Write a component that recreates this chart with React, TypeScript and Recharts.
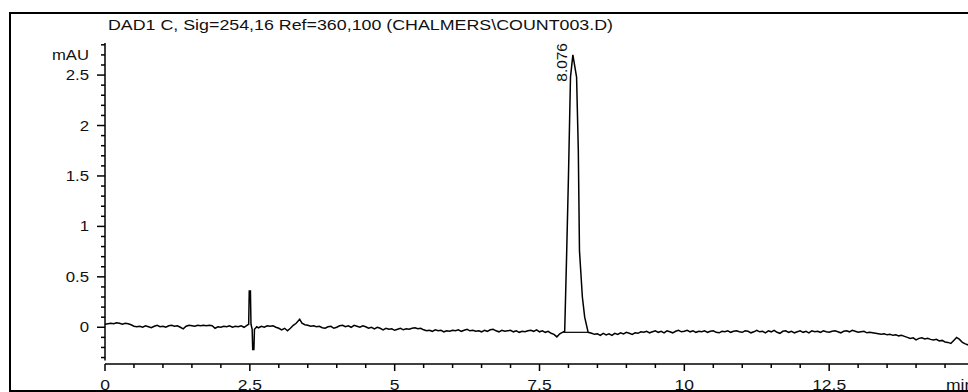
import React from 'react';
import { LineChart, Line, XAxis, YAxis, ReferenceLine, ReferenceDot } from 'recharts';

// DAD1 C chromatogram, time (min) vs absorbance (mAU), stored as [t, mAU] pairs
const baselineEarly: [number, number][] = [
  [0.0, 0.03], [0.05, 0.035], [0.1, 0.04], [0.15, 0.035], [0.2, 0.045], [0.25, 0.04],
  [0.3, 0.03], [0.35, 0.04], [0.4, 0.035], [0.45, 0.025], [0.5, 0.01], [0.55, 0.005],
  [0.6, 0.01], [0.65, 0.0], [0.7, 0.015], [0.75, 0.005], [0.8, -0.005], [0.85, 0.01],
  [0.9, 0.02], [0.95, 0.005], [1.0, 0.01], [1.05, 0.0], [1.1, 0.015], [1.15, 0.02],
  [1.2, 0.01], [1.25, 0.015], [1.3, 0.0], [1.35, -0.015], [1.4, 0.01], [1.45, 0.02],
  [1.5, 0.015], [1.55, 0.01], [1.6, 0.02], [1.65, 0.015], [1.7, 0.02], [1.75, 0.015],
  [1.8, 0.02], [1.85, 0.015], [1.9, -0.01], [1.95, 0.005], [2.0, 0.0], [2.05, 0.01],
  [2.1, 0.005], [2.15, 0.015], [2.2, 0.0], [2.25, 0.01], [2.3, 0.005], [2.35, 0.015],
  [2.4, 0.0], [2.45, 0.02],
];

const injectionSpike: [number, number][] = [
  [2.48, 0.03], [2.49, 0.36], [2.51, 0.36], [2.52, 0.03], [2.54, -0.02], [2.55, -0.22],
  [2.57, -0.22], [2.58, -0.02], [2.62, 0.005], [2.65, -0.005], [2.7, 0.01], [2.75, 0.0],
  [2.8, 0.015], [2.85, 0.01], [2.9, 0.015], [2.95, 0.0], [3.0, -0.01], [3.05, -0.025],
  [3.1, -0.01], [3.15, -0.035], [3.2, -0.01], [3.25, 0.02], [3.3, 0.04], [3.36, 0.08],
  [3.4, 0.04], [3.45, 0.025], [3.5, 0.02], [3.55, 0.01], [3.6, 0.015], [3.65, 0.005],
  [3.7, 0.01], [3.75, -0.005], [3.8, -0.01],
];

const baselineMid: [number, number][] = [
  [3.85, 0.005], [3.9, 0.01], [3.95, -0.01], [4.0, 0.0], [4.05, 0.015], [4.1, 0.02],
  [4.15, 0.005], [4.2, 0.015], [4.25, 0.0], [4.3, 0.02], [4.35, 0.01], [4.4, 0.0],
  [4.45, 0.015], [4.5, 0.005], [4.55, -0.01], [4.6, 0.0], [4.65, -0.015], [4.7, 0.0],
  [4.75, -0.01], [4.8, -0.025], [4.85, -0.01], [4.9, -0.02], [4.95, -0.015], [5.0, -0.03],
  [5.05, -0.02], [5.1, -0.01], [5.15, -0.025], [5.2, -0.015], [5.25, -0.02], [5.3, -0.01],
  [5.35, -0.005], [5.4, -0.015], [5.45, -0.01], [5.5, -0.025], [5.55, -0.035], [5.6, -0.03],
  [5.65, -0.04], [5.7, -0.025], [5.75, -0.035], [5.8, -0.03], [5.85, -0.045], [5.9, -0.035],
  [5.95, -0.04], [6.0, -0.03], [6.05, -0.035], [6.1, -0.025], [6.15, -0.04], [6.2, -0.03],
  [6.25, -0.02], [6.3, -0.035], [6.35, -0.03], [6.4, -0.04], [6.45, -0.035], [6.5, -0.045],
  [6.55, -0.03], [6.6, -0.04], [6.65, -0.025], [6.7, -0.02], [6.75, -0.035], [6.8, -0.045],
  [6.85, -0.03], [6.9, -0.04], [6.95, -0.035], [7.0, -0.03], [7.05, -0.045], [7.1, -0.035],
  [7.15, -0.05], [7.2, -0.04], [7.25, -0.045], [7.3, -0.035], [7.35, -0.03], [7.4, -0.04],
  [7.45, -0.025], [7.5, -0.045], [7.55, -0.035], [7.6, -0.05], [7.65, -0.04], [7.7, -0.06],
  [7.75, -0.07], [7.8, -0.095], [7.85, -0.065], [7.91, -0.045],
];

const peak8076: [number, number][] = [
  [7.935, -0.04], [7.95, 0.3], [7.97, 0.76], [8.0, 1.5], [8.035, 2.48], [8.076, 2.7],
  [8.14, 2.48], [8.17, 1.75], [8.19, 0.76], [8.24, 0.3], [8.28, 0.1], [8.34, -0.05],
];

const baselineLate: [number, number][] = [
  [8.4, -0.06], [8.45, -0.07], [8.5, -0.065], [8.55, -0.08], [8.6, -0.06], [8.65, -0.075],
  [8.7, -0.065], [8.75, -0.08], [8.8, -0.06], [8.85, -0.07], [8.9, -0.055], [8.95, -0.065],
  [9.0, -0.05], [9.05, -0.06], [9.1, -0.07], [9.15, -0.055], [9.2, -0.06], [9.25, -0.045],
  [9.3, -0.05], [9.35, -0.04], [9.4, -0.055], [9.45, -0.045], [9.5, -0.035], [9.55, -0.05],
  [9.6, -0.04], [9.65, -0.055], [9.7, -0.035], [9.75, -0.045], [9.8, -0.055], [9.85, -0.04],
  [9.9, -0.03], [9.95, -0.045], [10.0, -0.04], [10.05, -0.03], [10.1, -0.045], [10.15, -0.035],
  [10.2, -0.05], [10.25, -0.04], [10.3, -0.045], [10.35, -0.035], [10.4, -0.05], [10.45, -0.04],
  [10.5, -0.035], [10.55, -0.05], [10.6, -0.055], [10.65, -0.04], [10.7, -0.045], [10.75, -0.035],
  [10.8, -0.05], [10.85, -0.04], [10.9, -0.035], [10.95, -0.045], [11.0, -0.05], [11.05, -0.035],
  [11.1, -0.04], [11.15, -0.055], [11.2, -0.045], [11.25, -0.03], [11.3, -0.045], [11.35, -0.04],
  [11.4, -0.055], [11.45, -0.035], [11.5, -0.045], [11.55, -0.03], [11.6, -0.05], [11.65, -0.06],
  [11.7, -0.04], [11.75, -0.035], [11.8, -0.05], [11.85, -0.04], [11.9, -0.055], [11.95, -0.045],
  [12.0, -0.035], [12.05, -0.05], [12.1, -0.04], [12.15, -0.055], [12.2, -0.035], [12.25, -0.045],
  [12.3, -0.04], [12.35, -0.05], [12.4, -0.035], [12.45, -0.045], [12.5, -0.05], [12.55, -0.04],
  [12.6, -0.035], [12.65, -0.045], [12.7, -0.055], [12.75, -0.04], [12.8, -0.035], [12.85, -0.045],
  [12.9, -0.03], [12.95, -0.04], [13.0, -0.05], [13.05, -0.045], [13.1, -0.04], [13.15, -0.055],
  [13.2, -0.05], [13.25, -0.055], [13.3, -0.06], [13.35, -0.065], [13.4, -0.07], [13.45, -0.065],
  [13.5, -0.075], [13.55, -0.07], [13.6, -0.08], [13.65, -0.075], [13.7, -0.085], [13.75, -0.08],
  [13.8, -0.09], [13.85, -0.1], [13.9, -0.11], [13.95, -0.105], [14.0, -0.125], [14.05, -0.11],
  [14.1, -0.105], [14.15, -0.115], [14.2, -0.11], [14.25, -0.12], [14.3, -0.125], [14.35, -0.12],
  [14.4, -0.135], [14.45, -0.13], [14.5, -0.145], [14.55, -0.15], [14.6, -0.16], [14.65, -0.13],
  [14.7, -0.1], [14.75, -0.12], [14.8, -0.15], [14.85, -0.165], [14.9, -0.175], [14.95, -0.18],
  [15.0, -0.18],
];

// integration baseline drawn under the peak
const peakBaseline: [number, number][] = [[7.91, -0.05], [8.34, -0.05]];

const peakTime = 8.076;
const peakHeight = 2.7;

const xTicks = [
  0, 0.5, 1, 1.5, 2, 2.5, 3, 3.5, 4, 4.5, 5, 5.5, 6, 6.5, 7, 7.5, 8, 8.5, 9, 9.5,
  10, 10.5, 11, 11.5, 12, 12.5, 13, 13.5, 14, 14.5, 15,
];
const xMajorTicks = [0, 2.5, 5, 7.5, 10, 12.5, 15];
const xMajorLabels = ['0', '2.5', '5', '7.5', '10', '12.5', 'min'];

const yTicks = [
  -0.3, -0.2, -0.1, 0, 0.1, 0.2, 0.3, 0.4, 0.5, 0.6, 0.7, 0.8, 0.9, 1, 1.1, 1.2, 1.3,
  1.4, 1.5, 1.6, 1.7, 1.8, 1.9, 2, 2.1, 2.2, 2.3, 2.4, 2.5, 2.6, 2.7, 2.8,
];
const yMajorTicks = [0, 0.5, 1, 1.5, 2, 2.5];
const yMajorLabels = ['0', '0.5', '1', '1.5', '2', '2.5'];

const title = 'DAD1 C, Sig=254,16 Ref=360,100 (CHALMERS\\COUNT003.D)';

const toRows = (pts: [number, number][]) => pts.map(([t, v]) => ({ t, v }));
const traceRows = toRows([
  ...baselineEarly, ...injectionSpike, ...baselineMid, ...peak8076, ...baselineLate,
]);
const baselineRows = toRows(peakBaseline);

const FONT = '"Liberation Sans", Arial, Helvetica, sans-serif';
const INK = '#111';

const findMajor = (list: number[], v: number) =>
  list.findIndex((m) => Math.abs(m - v) < 1e-6);

const XTick = (props: any) => {
  const { x, y, payload } = props;
  const idx = findMajor(xMajorTicks, payload.value);
  const major = idx >= 0;
  const label = major ? xMajorLabels[idx] : null;
  const isUnit = label === 'min';
  return (
    <g>
      <line x1={x} x2={x} y1={y} y2={y + (major ? 7 : 4)} stroke="#000" strokeWidth={1.5} />
      {label !== null && (
        <text
          transform={`translate(${isUnit ? x - 28 : x},${y + 26}) scale(1.25,1)`}
          textAnchor={isUnit ? 'start' : 'middle'}
          fontFamily={FONT}
          fontSize={14}
          fill={INK}
        >
          {label}
        </text>
      )}
    </g>
  );
};

const YTick = (props: any) => {
  const { x, y, payload } = props;
  const idx = findMajor(yMajorTicks, payload.value);
  const major = idx >= 0;
  return (
    <g>
      <line x1={x - (major ? 8 : 4)} x2={x} y1={y} y2={y} stroke="#000" strokeWidth={1.5} />
      {major && (
        <text
          transform={`translate(${x - 16},${y + 5}) scale(1.2,1)`}
          textAnchor="end"
          fontFamily={FONT}
          fontSize={14}
          fill={INK}
        >
          {yMajorLabels[idx]}
        </text>
      )}
    </g>
  );
};

const UnitLabel = (props: any) => {
  const { viewBox } = props;
  const right = viewBox.x + viewBox.width - 16;
  return (
    <text
      transform={`translate(${right},${viewBox.y + 16.5}) scale(1.19,1)`}
      textAnchor="end"
      fontFamily={FONT}
      fontSize={14}
      fill={INK}
    >
      mAU
    </text>
  );
};

const PeakLabel = (props: any) => {
  const { viewBox } = props;
  const cx = viewBox.x + (viewBox.width || 0) / 2;
  const cy = viewBox.y + (viewBox.height || 0) / 2;
  return (
    <text
      transform={`translate(${cx - 6},${cy + 7.5}) rotate(-90) scale(1.1,1)`}
      textAnchor="middle"
      fontFamily={FONT}
      fontSize={14}
      fill={INK}
    >
      {peakTime.toFixed(3)}
    </text>
  );
};

export default function App() {
  return (
    <div
      style={{
        position: 'fixed',
        left: 0,
        top: 0,
        width: 968,
        height: 392,
        overflow: 'hidden',
        background: '#fff',
      }}
    >
      <div style={{ position: 'absolute', left: 0, top: 0 }}>
        <LineChart
          width={990}
          height={392}
          data={traceRows}
          margin={{ top: 43, right: 16, bottom: 0, left: 0 }}
        >
          <XAxis
            dataKey="t"
            type="number"
            domain={[0, 15]}
            ticks={xTicks}
            interval={0}
            allowDataOverflow
            height={28}
            tickSize={0}
            tickMargin={0}
            tickLine={false}
            axisLine={{ stroke: '#000', strokeWidth: 1.5 }}
            tick={<XTick />}
          />
          <YAxis
            type="number"
            domain={[-0.364, 2.818]}
            ticks={yTicks}
            interval={0}
            allowDataOverflow
            width={105}
            tickSize={0}
            tickMargin={0}
            tickLine={false}
            axisLine={false}
            tick={<YTick />}
            label={<UnitLabel />}
          />
          <ReferenceLine
            segment={[{ x: 0, y: -0.33 }, { x: 0, y: 2.818 }]}
            stroke="#000"
            strokeWidth={1.5}
            ifOverflow="visible"
          />
          <Line
            data={baselineRows}
            dataKey="v"
            type="linear"
            stroke="#000"
            strokeWidth={1.2}
            dot={false}
            activeDot={false}
            isAnimationActive={false}
          />
          <Line
            dataKey="v"
            type="linear"
            stroke="#000"
            strokeWidth={1.5}
            dot={false}
            activeDot={false}
            isAnimationActive={false}
          />
          <ReferenceDot
            x={peakTime}
            y={peakHeight}
            r={0}
            fill="none"
            stroke="none"
            ifOverflow="visible"
            label={<PeakLabel />}
          />
        </LineChart>
      </div>
      <svg
        width={968}
        height={392}
        style={{ position: 'absolute', left: 0, top: 0, pointerEvents: 'none' }}
      >
        <rect x={9} y={12} width={970} height={2} fill="#000" />
        <rect x={9} y={12} width={2} height={380} fill="#000" />
        <rect x={9} y={390} width={970} height={2} fill="#000" />
        <text
          x={108}
          y={30}
          fontFamily={FONT}
          fontSize={14}
          fill={INK}
          textLength={505}
          lengthAdjust="spacingAndGlyphs"
        >
          {title}
        </text>
      </svg>
    </div>
  );
}
